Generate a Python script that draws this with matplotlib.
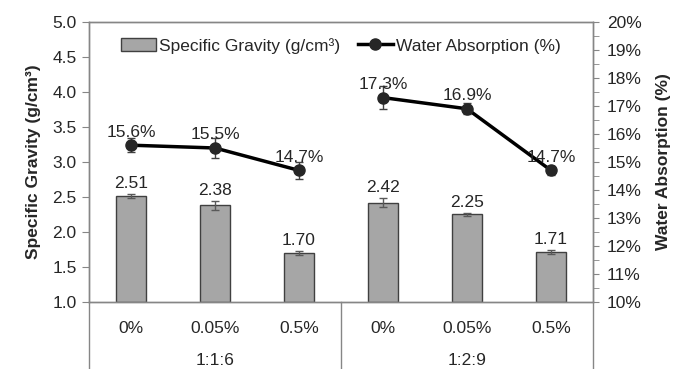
import matplotlib
matplotlib.use("Agg")
import matplotlib.pyplot as plt
from matplotlib.lines import Line2D
from matplotlib.patches import Patch
from matplotlib.ticker import FuncFormatter, MultipleLocator

plt.rcParams['font.family'] = ['Liberation Sans', 'DejaVu Sans']

groups = ["1:1:6", "1:2:9"]
categories = ["0%", "0.05%", "0.5%", "0%", "0.05%", "0.5%"]
specific_gravity = [2.51, 2.38, 1.70, 2.42, 2.25, 1.71]
sg_err = [0.03, 0.06, 0.03, 0.07, 0.02, 0.03]
water_absorption = [15.6, 15.5, 14.7, 17.3, 16.9, 14.7]
wa_err = [0.25, 0.35, 0.3, 0.4, 0.2, 0.15]

text_color = "#262626"
spine_color = "#868686"
fs = 12.5

fig = plt.figure(figsize=(6.79, 3.69), dpi=100)
ax = fig.add_axes([0.1311, 0.1816, 0.7422, 0.7588])
ax2 = ax.twinx()

x = [i + 0.5 for i in range(len(categories))]
ax.bar(x, [v - 1.0 for v in specific_gravity], bottom=1.0, width=0.36,
       color="#A6A6A6", edgecolor="#404040", linewidth=1.0, zorder=2)
ax.errorbar(x, specific_gravity, yerr=sg_err, fmt="none", ecolor="#595959",
            elinewidth=1.0, capsize=3, capthick=1.0, zorder=3)
for xi, v, e in zip(x, specific_gravity, sg_err):
    ax.text(xi, v + e + 0.04, f"{v:.2f}", ha="center", va="bottom",
            fontsize=fs, color=text_color)

for seg in (slice(0, 3), slice(3, 6)):
    ax2.plot(x[seg], water_absorption[seg], color="black", linewidth=2.5,
             marker="o", markersize=8, markerfacecolor="#262626",
             markeredgecolor="#262626", zorder=4)
    ax2.errorbar(x[seg], water_absorption[seg], yerr=wa_err[seg], fmt="none",
                 ecolor="#404040", elinewidth=1.0, capsize=3, capthick=1.0,
                 zorder=3)
for xi, v, e in zip(x, water_absorption, wa_err):
    ax2.text(xi, v + 0.2, f"{v:.1f}%", ha="center", va="bottom",
             fontsize=fs, color=text_color, zorder=5)

ax.set_xlim(0, 6)
ax.set_ylim(1.0, 5.0)
ax2.set_ylim(10, 20)

ax.yaxis.set_major_locator(MultipleLocator(0.5))
ax.yaxis.set_major_formatter(FuncFormatter(lambda v, p: f"{v:.1f}"))
ax2.yaxis.set_major_locator(MultipleLocator(1))
ax2.yaxis.set_minor_locator(MultipleLocator(0.5))
ax2.yaxis.set_major_formatter(FuncFormatter(lambda v, p: f"{v:.0f}%"))

ax.set_xticks(x)
ax.set_xticklabels(categories)
ax.tick_params(axis="x", length=0, pad=14, labelsize=fs, labelcolor=text_color)
ax.tick_params(axis="y", direction="out", length=5, color=spine_color,
               labelsize=fs, labelcolor=text_color, pad=4)
ax2.tick_params(axis="y", which="both", direction="out", length=4,
                color=spine_color, labelsize=fs, labelcolor=text_color, pad=6)

for a in (ax, ax2):
    for s in a.spines.values():
        s.set_color(spine_color)
        s.set_linewidth(1.0)

ax.set_ylabel("Specific Gravity (g/cm³)", fontsize=fs, fontweight="bold",
              color=text_color, labelpad=8)
ax2.set_ylabel("Water Absorption (%)", fontsize=fs, fontweight="bold",
               color=text_color, labelpad=10)

# group separators below the axis
for xs in (0, 3, 6):
    ax.add_line(Line2D([xs, xs], [0, -0.25], transform=ax.get_xaxis_transform(),
                       color=spine_color, linewidth=1.0, clip_on=False))
for gi, g in enumerate(groups):
    ax.text(gi * 3 + 1.5, -0.21, g, transform=ax.get_xaxis_transform(),
            ha="center", va="center", fontsize=fs, color=text_color)

handles = [Patch(facecolor="#A6A6A6", edgecolor="#404040", linewidth=1.0),
           Line2D([], [], color="black", linewidth=2.5, marker="o",
                  markersize=8, markerfacecolor="#262626",
                  markeredgecolor="#262626")]
labels = ["Specific Gravity (g/cm³)", "Water Absorption (%)"]
leg = ax2.legend(handles, labels, loc="upper center", ncol=2, frameon=False,
                 fontsize=fs, bbox_to_anchor=(0.5, 1.0), handlelength=2.0,
                 handletextpad=0.2, columnspacing=1.0, labelcolor=text_color)

fig.savefig("out.png", dpi=100)
